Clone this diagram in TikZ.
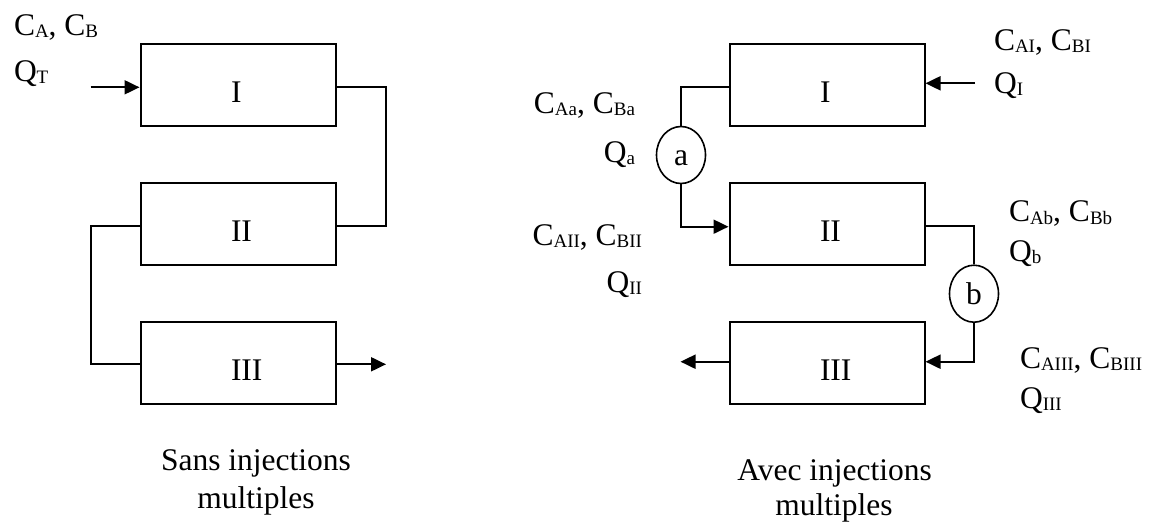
\documentclass[tikz,border=0pt]{standalone}
\usepackage{fontspec}
\setmainfont{Liberation Serif}
\usetikzlibrary{arrows.meta,shapes.geometric}
\newcommand{\sbs}[1]{\raisebox{-2.5pt}{\fontsize{19}{19}\selectfont #1}}
\begin{document}
\begin{tikzpicture}[x=1pt,y=-1pt,line width=2pt,
  box/.style={draw, rectangle, minimum width=195pt, minimum height=82pt,
    inner sep=0pt, text height=35pt, text depth=0pt,
    font=\fontsize{31.5}{36}\selectfont},
  lab/.style={inner sep=0pt, font=\fontsize{31.5}{36}\selectfont},
  ell/.style={draw, ellipse, minimum width=49pt, minimum height=57pt,
    inner sep=0pt, line width=1.6pt, font=\fontsize{31.5}{36}\selectfont},
  arr/.style={-{Triangle[length=15pt,width=14pt]}}]
\useasboundingbox (0,0) rectangle (1154,523);
% left diagram
\node[box] (lI)   at (238,85.2)  {\makebox[14pt][l]{I}};
\node[box] (lII)  at (238,224.2) {\makebox[14pt][l]{II}};
\node[box] (lIII) at (238,362.7) {\makebox[14pt][l]{III}};
\coordinate (inL) at (90.7,87.3);
\draw[arr] (inL) -- (inL -| lI.west);
\draw ([yshift=-2pt]lI.east) -- ++(49.7,0) |- ([yshift=-1.5pt]lII.east);
\draw ([yshift=-1.5pt]lII.west) -- ++(-49,0) |- ([yshift=-1.6pt]lIII.west);
\draw[arr] ([yshift=-1.6pt]lIII.east) -- ++(49.5,0);
\node[lab,anchor=base west] (tCAB) at (13,35) {C\sbs{A}, C\sbs{B}};
\node[lab,anchor=base west] (tQT) at (13,81) {Q\sbs{T}};
\node[lab,anchor=base] (capL1) at (256,470.7) {Sans injections};
\node[lab,anchor=base] (capL2) at (256,508.3) {multiples};
% right diagram
\node[box] (rI)   at (827,85.2)  {\makebox[14pt][l]{I}};
\node[box] (rII)  at (827,224.2) {\makebox[14pt][l]{II}};
\node[box] (rIII) at (827,362.7) {\makebox[14pt][l]{III}};
\node[ell, text height=20pt, text depth=0pt] (a) at (681,155) {a};
\node[ell] (b) at (974,293.7) {b};
\coordinate (inR) at (975,83.3);
\draw[arr] (inR) -- (inR -| rI.east);
\draw ([yshift=-2pt]rI.west) -| (a.north);
\draw[arr] (a.south) |- ([yshift=-2.5pt]rII.west);
\draw ([yshift=-1.8pt]rII.east) -| (b.north);
\draw[arr] (b.south) |- ([yshift=1pt]rIII.east);
\draw[arr] ([yshift=1pt]rIII.west) -- ++(-48,0);
\node[lab,anchor=base west] (tCAI) at (993,50) {C\sbs{AI}, C\sbs{BI}};
\node[lab,anchor=base west] (tQI) at (993,93) {Q\sbs{I}};
\node[lab,anchor=base east] (tCAa) at (636,113) {C\sbs{Aa}, C\sbs{Ba}};
\node[lab,anchor=base east] (tQa) at (636,162) {Q\sbs{a}};
\node[lab,anchor=base east] (tCAII) at (643,245) {C\sbs{AII}, C\sbs{BII}};
\node[lab,anchor=base east] (tQII) at (643,292) {Q\sbs{II}};
\node[lab,anchor=base west] (tCAb) at (1008,221.5) {C\sbs{Ab}, C\sbs{Bb}};
\node[lab,anchor=base west] (tQb) at (1008,261) {Q\sbs{b}};
\node[lab,anchor=base west] (tCAIII) at (1019,368) {C\sbs{AIII}, C\sbs{BIII}};
\node[lab,anchor=base west] (tQIII) at (1019,408) {Q\sbs{III}};
\node[lab,anchor=base] (capR1) at (834.7,480) {Avec injections};
\node[lab,anchor=base] (capR2) at (834,515) {multiples};
\end{tikzpicture}
\end{document}
